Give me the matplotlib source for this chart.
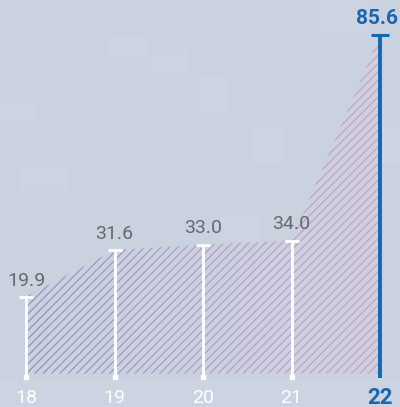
import numpy as np
import matplotlib.pyplot as plt
from matplotlib.colors import LinearSegmentedColormap
from matplotlib.patches import Rectangle

years = [18, 19, 20, 21, 22]
values = [19.9, 31.6, 33.0, 34.0, 85.6]
value_labels = ['19.9', '31.6', '33.0', '34.0', '85.6']
tick_labels = ['18', '19', '20', '21', '22']

bg = '#cbd2df'
blue = '#1666b2'
grey = '#66696f'
font = ['Roboto', 'DejaVu Sans']

fig = plt.figure(figsize=(4, 4.07), dpi=100)
fig.patch.set_facecolor(bg)
ax = fig.add_axes([0, 0, 1, 1])
ax.set_facecolor(bg)
ax.set_xlim(17.706, 22.226)
ax.set_ylim(-7.78, 94.37)
ax.axis('off')

# faint blocky texture in the background
blocks = [(0.0, 0.70, 0.09, 0.06), (0.05, 0.53, 0.12, 0.06), (0.27, 0.86, 0.1, 0.05),
          (0.38, 0.82, 0.09, 0.06), (0.5, 0.72, 0.07, 0.09), (0.63, 0.6, 0.08, 0.1),
          (0.8, 0.92, 0.12, 0.08), (0.55, 0.4, 0.1, 0.07), (0.95, 0.6, 0.05, 0.1),
          (0.0, 0.0, 1.0, 0.07)]
for bx, by, bw, bh in blocks:
    ax.add_patch(Rectangle((bx, by), bw, bh, transform=ax.transAxes,
                           facecolor='white', alpha=0.04, linewidth=0, zorder=0))

# hatched area, colour shifting from blue-violet to pink
plt.rcParams['hatch.linewidth'] = 0.9
cmap = LinearSegmentedColormap.from_list('fade', ['#8e93c4', '#b59bcb', '#d69cc2'])
edges = np.linspace(years[0], years[-1], 41)
for i in range(len(edges) - 1):
    xi = np.linspace(edges[i], edges[i + 1], 10)
    yi = np.interp(xi, years, values)
    ax.fill_between(xi, 0.6, yi, facecolor='none', edgecolor=cmap(i / (len(edges) - 2)),
                    hatch='////', linewidth=0, zorder=1)

# white markers for the earlier years
for x, v, lab in zip(years[:-1], values[:-1], value_labels[:-1]):
    ax.plot([x, x], [-0.5, v], color='white', lw=2, solid_capstyle='butt', zorder=3)
    ax.plot([x], [v], marker='_', ms=10, mew=2, color='white', zorder=3)
    ax.plot([x], [-0.3], marker='s', ms=2.2, color='white', zorder=3)
    ax.text(x, v + 1.8, lab, ha='center', va='bottom', color=grey,
            fontsize=14, family=font, zorder=4)

# highlighted last year
x, v = years[-1], values[-1]
ax.plot([x, x], [-0.5, v], color=blue, lw=2.8, solid_capstyle='butt', zorder=3)
ax.plot([x], [v], marker='_', ms=13, mew=2.2, color=blue, zorder=3)
ax.annotate(value_labels[-1], (x, v + 1.8), xytext=(-2, 0), textcoords='offset points',
            ha='center', va='bottom', color=blue, fontsize=15, fontweight='bold',
            family=font, zorder=4)

for x, lab in zip(years[:-1], tick_labels[:-1]):
    ax.text(x, -5.4, lab, ha='center', va='center', color='white', fontsize=14, family=font)
ax.text(years[-1], -5.4, tick_labels[-1], ha='center', va='center', color=blue,
        fontsize=16, fontweight='bold', family=font)

fig.savefig('out.png', dpi=100, facecolor=bg)
